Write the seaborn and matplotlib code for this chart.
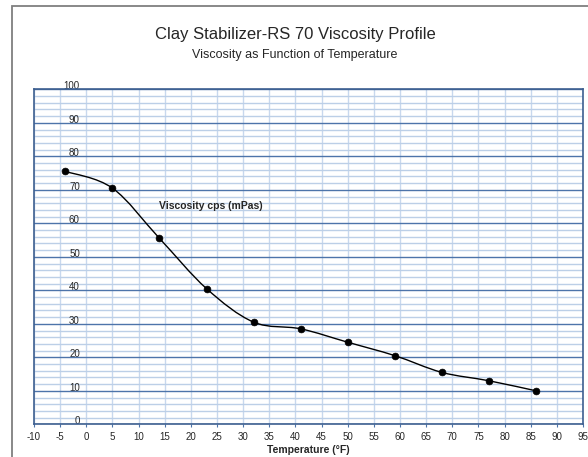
import numpy as np
import pandas as pd
import matplotlib
matplotlib.use("Agg")
import matplotlib.pyplot as plt
from matplotlib.path import Path
from matplotlib.patches import PathPatch, Rectangle
import seaborn as sns

# ---- data ----
temperature_f = [-4, 5, 14, 23, 32, 41, 50, 59, 68, 77, 86]
viscosity_cps = [75.5, 70.5, 55.5, 40.5, 30.5, 28.5, 24.5, 20.5, 15.5, 13.0, 10.0]
x_ticks = list(range(-10, 100, 5))
y_ticks = list(range(0, 110, 10))
title = "Clay Stabilizer-RS 70 Viscosity Profile"
subtitle = "Viscosity as Function of Temperature"
x_label = "Temperature (°F)"
series_label = "Viscosity cps (mPas)"

df = pd.DataFrame({"Temperature": temperature_f, "Viscosity": viscosity_cps})

sns.set_style("white")
plt.rcParams["font.family"] = ["Liberation Sans", "DejaVu Sans"]

W, H = 588, 457
fig = plt.figure(figsize=(W / 100, H / 100), dpi=100)
ax = fig.add_axes([34 / W, 1 - 424.3 / H, (583 - 34) / W, (424.3 - 89.3) / H])

# outer chart border
fig.patches.append(Rectangle((12 / W, -0.1), 1.2, (1 - 6 / H) + 0.1,
                             transform=fig.transFigure, fill=False,
                             edgecolor="#7f7f7f", linewidth=1.3))

ax.set_xlim(-10, 95)
ax.set_ylim(0, 100)

# grid
major_c = "#4d74aa"
minor_c = "#bccfe7"
for y in np.arange(0, 101, 2):
    if y % 10 == 0:
        ax.axhline(y, color=major_c, lw=1.0, zorder=1)
    else:
        ax.axhline(y, color=minor_c, lw=1.0, zorder=0.5)
for x in x_ticks:
    ax.axvline(x, color="#c8d8ee", lw=1.0, zorder=0.4)

# smoothed line (Bezier through points, Excel-like)
xs = np.array(temperature_f, float)
ys = np.array(viscosity_cps, float)
n = len(xs)
verts = [(xs[0], ys[0])]
codes = [Path.MOVETO]
for i in range(n - 1):
    p0 = np.array([xs[max(i - 1, 0)], ys[max(i - 1, 0)]])
    p1 = np.array([xs[i], ys[i]])
    p2 = np.array([xs[i + 1], ys[i + 1]])
    p3 = np.array([xs[min(i + 2, n - 1)], ys[min(i + 2, n - 1)]])
    c1 = p1 + (p2 - p0) / 6.0
    c2 = p2 - (p3 - p1) / 6.0
    verts += [tuple(c1), tuple(c2), tuple(p2)]
    codes += [Path.CURVE4] * 3
ax.add_patch(PathPatch(Path(verts, codes), facecolor="none",
                       edgecolor="black", lw=1.0, zorder=3))

sns.scatterplot(data=df, x="Temperature", y="Viscosity", ax=ax, color="black",
                s=24, edgecolor="black", linewidth=0.5, zorder=4, legend=False)

ax.text(14, 65.2, series_label, fontsize=7.5, fontweight="bold",
        ha="left", va="center", zorder=5)

# ticks
ax.set_xticks(x_ticks)
ax.set_yticks(y_ticks)
ax.set_xticklabels([str(t) for t in x_ticks])
ax.set_yticklabels([str(t) for t in y_ticks])
ax.tick_params(axis="x", length=2.5, width=0.8, color=major_c, pad=3,
               labelsize=7, direction="out", bottom=True)
ax.tick_params(axis="y", length=0, pad=-33, labelsize=7, left=True)
for lab in ax.get_yticklabels():
    lab.set_verticalalignment("baseline")
ax.set_xlabel(x_label, fontsize=7.5, fontweight="bold", labelpad=2)
ax.set_ylabel("")

for s in ax.spines.values():
    s.set_visible(True)
    s.set_color("#3d5f90")
    s.set_linewidth(1.2)

fig.text(295 / W, 1 - 35 / H, title, fontsize=12, ha="center", va="center")
fig.text(295 / W, 1 - 55 / H, subtitle, fontsize=9, ha="center", va="center")

fig.savefig("out.png", dpi=100)
